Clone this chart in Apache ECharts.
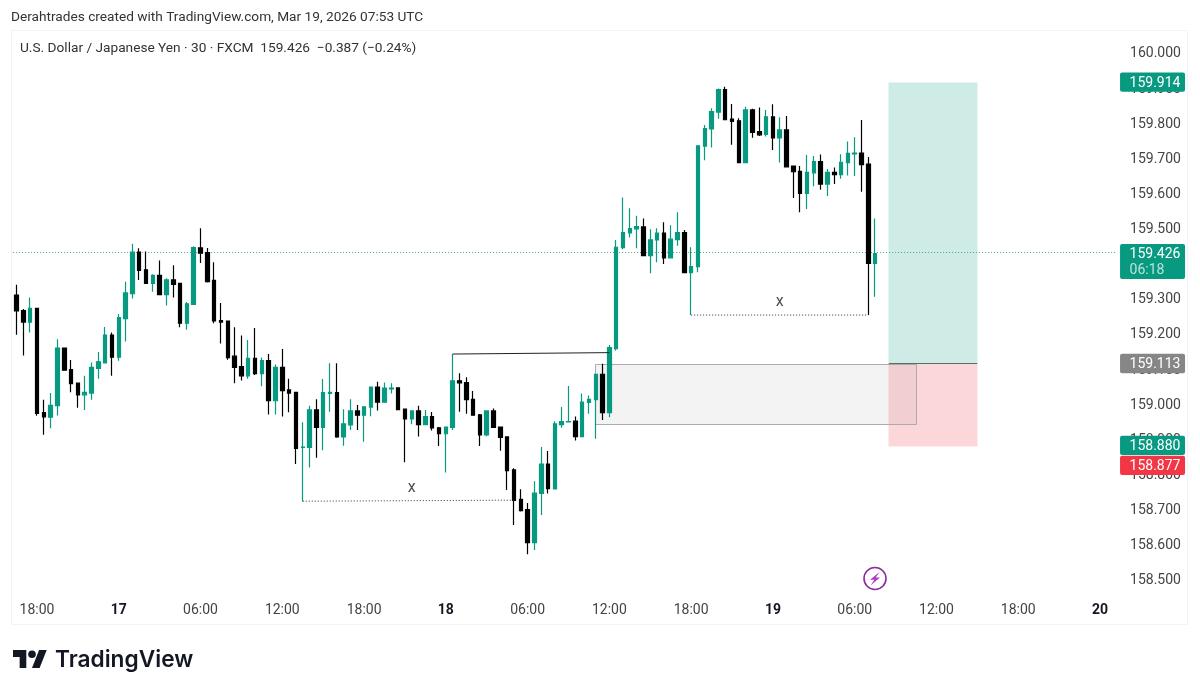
<!DOCTYPE html>
<html><head><meta charset="utf-8">
<style>html,body{margin:0;padding:0;background:#fff}#c{width:1200px;height:693px}</style>
<script src="https://cdn.jsdelivr.net/npm/echarts@6/dist/echarts.min.js"></script>
</head><body><div id="c"></div>
<script>
// 30-minute USD/JPY bars, first bar = Mar 16 16:30
const opens=[159.308,159.264,159.231,159.270,158.973,158.960,158.993,159.157,159.096,159.057,
159.024,159.029,159.099,159.115,159.194,159.131,159.241,159.312,159.430,159.380,
159.341,159.364,159.309,159.351,159.341,159.228,159.281,159.442,159.429,159.350,
159.235,159.234,159.134,159.104,159.078,159.128,159.084,159.121,159.007,159.102,
159.038,159.031,158.874,158.874,158.981,158.931,159.028,159.030,158.904,158.938,
158.978,158.966,158.989,159.046,159.003,159.041,159.044,158.983,158.955,158.978,
158.939,158.962,158.930,158.913,158.931,159.064,159.059,159.011,158.967,158.910,
158.978,158.932,158.904,158.810,158.726,158.697,158.603,158.743,158.827,158.756,
158.939,158.947,158.949,158.905,159.002,159.010,159.082,158.973,159.155,159.443,
159.485,159.496,159.502,159.420,159.465,159.484,159.414,159.466,159.486,159.372,
159.389,159.732,159.781,159.829,159.893,159.809,159.804,159.685,159.835,159.773,
159.765,159.815,159.755,159.778,159.675,159.660,159.597,159.656,159.688,159.624,
159.657,159.651,159.685,159.710,159.712,159.681,159.398];
const closes=[159.263,159.231,159.270,158.971,158.961,158.994,159.157,159.094,159.056,159.024,
159.031,159.102,159.118,159.194,159.131,159.244,159.314,159.430,159.378,159.341,
159.364,159.309,159.351,159.338,159.228,159.283,159.443,159.427,159.346,159.234,
159.231,159.130,159.102,159.078,159.128,159.084,159.121,159.007,159.102,159.036,
159.029,158.871,158.875,158.981,158.931,159.030,159.031,158.904,158.941,158.978,
158.966,158.990,159.046,159.003,159.043,159.043,158.982,158.955,158.978,158.939,
158.962,158.930,158.913,158.932,159.064,159.058,159.010,158.966,158.910,158.978,
158.931,158.903,158.808,158.723,158.694,158.603,158.744,158.827,158.757,158.941,
158.948,158.948,158.905,159.003,159.011,159.082,158.973,159.158,159.444,159.486,
159.497,159.503,159.420,159.465,159.484,159.414,159.467,159.486,159.372,159.389,
159.733,159.782,159.830,159.893,159.807,159.802,159.685,159.835,159.771,159.764,
159.815,159.755,159.778,159.673,159.659,159.597,159.657,159.688,159.624,159.657,
159.651,159.686,159.711,159.712,159.679,159.398,159.426];
const highs=[159.337,159.268,159.301,159.270,159.010,159.029,159.182,159.157,159.123,159.057,
159.078,159.116,159.146,159.217,159.201,159.254,159.346,159.454,159.441,159.432,
159.367,159.406,159.356,159.393,159.341,159.288,159.447,159.498,159.442,159.401,
159.285,159.234,159.216,159.193,159.180,159.214,159.130,159.140,159.110,159.154,
159.070,159.031,158.946,158.993,159.011,159.069,159.114,159.114,158.983,159.011,
158.995,158.990,159.047,159.061,159.059,159.057,159.044,158.983,158.978,158.993,
158.981,158.975,158.932,158.933,159.140,159.085,159.074,159.035,158.969,158.980,
158.985,158.933,158.904,158.815,158.755,158.716,158.778,158.875,158.864,158.949,
158.989,159.049,158.962,159.028,159.022,159.082,159.112,159.166,159.465,159.586,
159.555,159.534,159.526,159.495,159.498,159.515,159.507,159.544,159.493,159.444,
159.733,159.792,159.840,159.896,159.901,159.852,159.811,159.844,159.838,159.842,
159.835,159.851,159.814,159.818,159.676,159.675,159.707,159.704,159.708,159.667,
159.671,159.709,159.745,159.757,159.806,159.701,159.526];
const lows=[159.195,159.136,159.201,158.964,158.910,158.929,158.965,159.094,159.031,158.987,
158.981,159.010,159.070,159.115,159.078,159.121,159.176,159.298,159.351,159.341,
159.317,159.309,159.278,159.301,159.216,159.209,159.281,159.399,159.344,159.228,
159.170,159.124,159.057,159.065,159.070,159.080,159.048,158.968,158.968,158.962,
158.974,158.827,158.720,158.817,158.845,158.866,158.976,158.902,158.879,158.924,
158.924,158.890,158.963,158.979,159.002,159.028,158.982,158.832,158.940,158.905,
158.938,158.922,158.878,158.803,158.924,158.976,158.970,158.966,158.878,158.906,
158.931,158.865,158.753,158.653,158.692,158.570,158.582,158.682,158.743,158.754,
158.930,158.947,158.894,158.905,158.970,158.899,158.952,158.960,159.150,159.438,
159.472,159.441,159.420,159.370,159.401,159.396,159.413,159.448,159.370,159.251,
159.373,159.692,159.728,159.810,159.807,159.736,159.685,159.685,159.756,159.761,
159.759,159.721,159.685,159.673,159.584,159.544,159.553,159.618,159.608,159.590,
159.624,159.639,159.648,159.647,159.602,159.251,159.303];

const barCount=162;          // candles plus empty future bars up to Mar 20
const hourLabels=['00:00','06:00','12:00','18:00'];
const dayLabels={'17':1,'18':1,'19':1,'20':1};
const yTicks=['158.500','158.600','158.700','158.800','158.900','159.000','159.100','159.200','159.300','159.400','159.500','159.600','159.700','159.800','159.900','160.000'];

const lastPrice=159.426;
const tpPrice=159.914, entryPrice=159.113, stopPrice=158.877;
// [barFrom, barTo, priceTop, priceBottom]
const targetBox=[128,141,tpPrice,entryPrice];
const stopBox=[128,141,entryPrice,stopPrice];
const zoneBox=[85,132,entryPrice,158.941];
// [barFrom, priceFrom, barTo, priceTo]
const trendLine=[64,159.140,87,159.144];
const dottedLines=[[42,158.721,73,158.724],[99,159.251,125,159.251]];
// [bar, price]
const xMarks=[[58,158.759],[112,159.288]];
const badges=[
 {price:159.914,text:'159.914',color:'#089981',dy:0},
 {price:159.426,text:'159.426',sub:'06:18',color:'#089981',dy:0},
 {price:159.113,text:'159.113',color:'#868686',dy:0},
 {price:158.880,text:'158.880',color:'#089981',dy:0},
 {price:158.877,text:'158.877',color:'#f23645',dy:19}
];

const GREEN='#089981', FONT='Roboto';
const cats=[];
(function(){let day=16,m=16*60+30;
 for(let i=0;i<barCount;i++){const h=Math.floor(m/60),mm=m%60;
  cats.push(day+' '+String(h).padStart(2,'0')+':'+String(mm).padStart(2,'0'));
  m+=30;if(m>=1440){m=0;day++;}}})();
const candleData=cats.map((c,i)=>i<opens.length?[opens[i],closes[i],lows[i],highs[i]]:['-','-','-','-']);

function boxSeries(box,fill,stroke,z){
 return {type:'custom',coordinateSystem:'cartesian2d',z:z,silent:true,clip:false,
  data:[[box[0],box[2]]],encode:{x:0,y:1},
  renderItem:function(p,api){
   const a=api.coord([box[0],box[2]]),b=api.coord([box[1],box[3]]);
   const x0=Math.round(a[0])-0.5,y0=Math.round(a[1])+0.5,x1=Math.round(b[0])+0.5,y1=Math.round(b[1])+0.5;
   return {type:'rect',shape:{x:x0,y:y0,width:x1-x0,height:y1-y0},
    style:{fill:fill,stroke:stroke,lineWidth:stroke?1:0}};
  }};
}
function lineSeries(l,dash,color){
 return {type:'line',z:5,silent:true,symbol:'none',animation:false,
  lineStyle:{color:color,width:1,type:dash},
  data:[[l[0],l[1]],[l[2],l[3]]]};
}
const series=[
 boxSeries(targetBox,'rgba(8,153,129,0.2)',null,1),
 boxSeries(stopBox,'rgba(242,54,69,0.2)',null,1),
 boxSeries(zoneBox,'rgba(120,120,120,0.09)','#ababab',1.5),
 {type:'line',z:1.7,silent:true,symbol:'none',lineStyle:{color:'#666',width:1},
  data:[[targetBox[0],entryPrice],[targetBox[1],entryPrice]]},
 {type:'candlestick',z:2,data:candleData,barWidth:4,silent:true,
  itemStyle:{color:GREEN,color0:'#000',borderColor:GREEN,borderColor0:'#000',borderWidth:1.2},
  markLine:{silent:true,symbol:'none',animation:false,label:{show:false},z:1.8,
   lineStyle:{color:'#4f9c90',type:[1,2],width:1},data:[{yAxis:lastPrice}]}},
 lineSeries(trendLine,'solid','#222'),
 lineSeries(dottedLines[0],[1,2],'#333'),
 lineSeries(dottedLines[1],[1,2],'#333'),
 {type:'scatter',z:6,silent:true,symbolSize:0,data:xMarks,
  label:{show:true,position:'inside',formatter:'x',color:'#222',fontFamily:FONT,fontSize:16}},
 {type:'custom',coordinateSystem:'cartesian2d',z:10,silent:true,clip:false,
  data:badges.map(b=>[0,b.price]),encode:{x:0,y:1},
  renderItem:function(p,api){
   const b=badges[p.dataIndex];
   const c=api.coord([0,b.price]);
   const right=p.coordSys.x+p.coordSys.width;
   const x=right+3,cy=c[1]+b.dy,h=b.sub?35:19.4,w=65;
   const kids=[{type:'rect',shape:{x:x,y:cy-9.7,width:w,height:h,r:2},style:{fill:b.color}},
    {type:'text',style:{x:x+9.5,y:cy+1,text:b.text,fill:'#fff',font:'14px '+FONT,verticalAlign:'middle'}}];
   if(b.sub)kids.push({type:'text',style:{x:x+9.5,y:cy+17,text:b.sub,fill:'rgba(255,255,255,0.72)',font:'14px '+FONT,verticalAlign:'middle'}});
   return {type:'group',children:kids};
  }}
];

const chart=echarts.init(document.getElementById('c'),null,{renderer:'canvas'});
chart.setOption({
 animation:false,backgroundColor:'#fff',
 grid:{left:13.15,width:1103.9,top:34.4,height:562,containLabel:false},
 xAxis:{type:'category',data:cats,boundaryGap:true,
  axisLine:{show:false},axisTick:{show:false},splitLine:{show:false},
  axisLabel:{interval:function(i){return (i-3)%12===0;},margin:7,hideOverlap:false,
   fontFamily:FONT,fontSize:14,color:'#444',
   formatter:function(v){const p=v.split(' ');
    if(p[1]==='00:00'&&dayLabels[p[0]])return '{d|'+p[0]+'}';
    return hourLabels.indexOf(p[1])>=0?p[1]:'';},
   rich:{d:{fontWeight:'bold',color:'#131722',fontFamily:FONT,fontSize:14}}}},
 yAxis:{type:'value',position:'right',min:158.45,max:160.05,interval:0.05,scale:true,
  axisLine:{show:false},axisTick:{show:false},splitLine:{show:false},
  axisLabel:{show:true,inside:false,margin:13,fontFamily:FONT,fontSize:14,color:'#444',
   showMinLabel:true,showMaxLabel:true,
   formatter:function(v){const s=v.toFixed(3);return yTicks.indexOf(s)>=0?'{p|'+s+'}':'';},
   rich:{p:{padding:[4,0,0,0],fontFamily:FONT,fontSize:14,color:'#444'}}}},
 series:series,
 graphic:[
  {type:'rect',z:0,silent:true,shape:{x:11.5,y:30.5,width:1176,height:594},style:{fill:'none',stroke:'#f0f3fa',lineWidth:1}},
  {type:'text',x:11,y:18,style:{text:'Derahtrades created with TradingView.com, Mar 19, 2026 07:53 UTC',font:'13.66px '+FONT,fill:'#333',verticalAlign:'middle'}},
  {type:'text',x:20,y:48.5,style:{text:'U.S. Dollar / Japanese Yen \u00b7 30 \u00b7 FXCM  159.426  \u22120.387 (\u22120.24%)',font:'13.68px '+FONT,fill:'#333',verticalAlign:'middle'}},
  {type:'polygon',silent:true,shape:{points:[[26.3,668],[19.65,668],[19.65,657],[13,657],[13,650],[26.3,650]]},style:{fill:'#131722'}},
  {type:'polygon',silent:true,shape:{points:[[39.6,668],[32,668],[39.1,650],[46.7,650]]},style:{fill:'#131722'}},
  {type:'circle',silent:true,shape:{cx:32,cy:654.3,r:3.8},style:{fill:'#131722'}},
  {type:'text',x:55,y:660,style:{text:'TradingView',font:'600 22.7px Inter',fill:'#131722',verticalAlign:'middle'}},
  {type:'circle',shape:{cx:875,cy:578.5,r:11},silent:true,style:{fill:'#fff',stroke:'#8e2aa0',lineWidth:1.6}},
  {type:'polygon',silent:true,shape:{points:[[879.5,572],[870,579.8],[874.3,579.8],[870.8,585.2],[880,577.4],[875.7,577.4]]},style:{fill:'#b13ac6'}}
 ]
});
</script></body></html>
